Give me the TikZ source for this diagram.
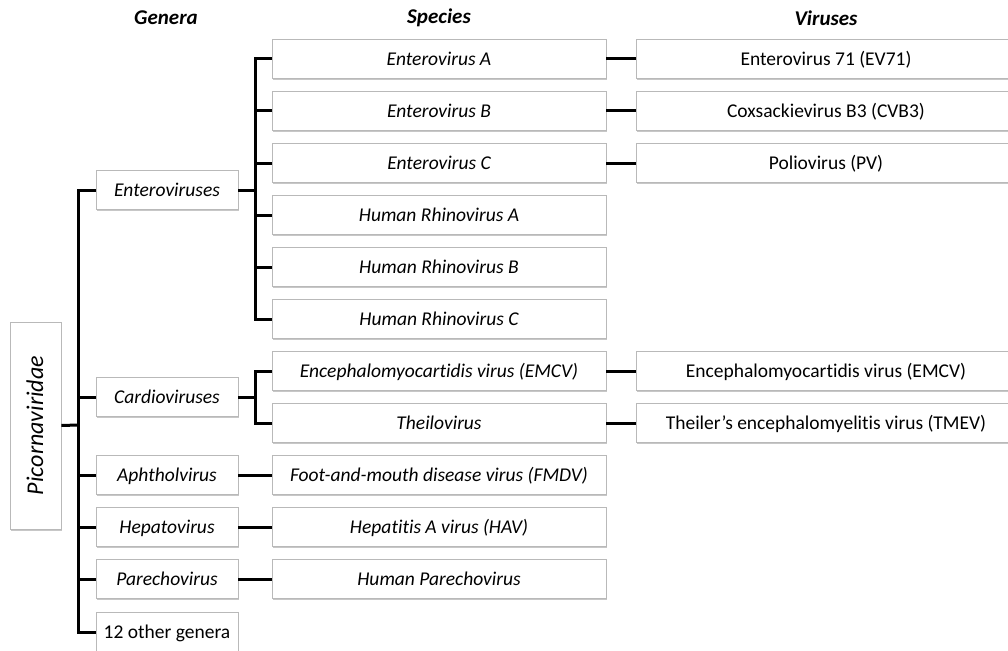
\documentclass[tikz,border=0pt]{standalone}
\usepackage{fontspec}
\setmainfont{Carlito}[Ligatures=NoCommon]
\usetikzlibrary{shadows}

\tikzset{
	box/.style={draw=gray!55, fill=white, line width=0.6pt, inner sep=0pt,
		minimum height=39pt, text height=12.3pt, text depth=0pt,
		font=\fontsize{19.5}{22}\selectfont,
		drop shadow={shadow xshift=1.2pt, shadow yshift=-1.5pt, fill=black, opacity=0.22}},
	genus/.style={box, minimum width=142pt, font=\fontsize{19.5}{22}\selectfont\itshape},
	species/.style={box, minimum width=334pt, font=\fontsize{19.5}{22}\selectfont\itshape},
	virus/.style={box, minimum width=380pt},
	head/.style={font=\fontsize{21}{24}\selectfont\bfseries\itshape},
	link/.style={line width=3pt, line join=miter},
}

\begin{document}
\begin{tikzpicture}[x=1pt, y=-1pt]
	\useasboundingbox (0,0) rectangle (1008,650);
	\clip (0,0) rectangle (1008,650);
	%Titoli
	\node [head] (hgen) at (166,18) {Genera};
	\node [head] (hspe) at (439,18) {Species};
	\node [head] (hvir) at (826,18) {Viruses};
	%Famiglia
	\node [box, rotate=90, minimum width=207pt, minimum height=51pt, text height=15.2pt,
		font=\fontsize{24}{27}\selectfont\itshape] (pic) at (35.5,425.5) {Picornaviridae};
	%Generi
	\node [genus] (ent) at (167,190) {Enteroviruses};
	\node [genus] (car) at (167,397) {Cardioviruses};
	\node [genus] (aph) at (167,475) {Aphtholvirus};
	\node [genus] (hep) at (167,527) {Hepatovirus};
	\node [genus] (par) at (167,579) {Parechovirus};
	\node [genus, font=\fontsize{19.5}{22}\selectfont] (oth) at (167,632) {12 other genera};
	%Specie
	\node [species] (enta) at (439,59) {Enterovirus A};
	\node [species] (entb) at (439,111) {Enterovirus B};
	\node [species] (entc) at (439,163) {Enterovirus C};
	\node [species] (hrva) at (439,215) {Human Rhinovirus A};
	\node [species] (hrvb) at (439,267) {Human Rhinovirus B};
	\node [species] (hrvc) at (439,319) {Human Rhinovirus C};
	\node [species] (emcs) at (439,371) {Encephalomyocartidis virus (EMCV)};
	\node [species] (thei) at (439,423) {Theilovirus};
	\node [species] (fmdv) at (439,475) {Foot-and-mouth disease virus (FMDV)};
	\node [species] (hav) at (439,527) {Hepatitis A virus (HAV)};
	\node [species] (hpev) at (439,579) {Human Parechovirus};
	%Virus
	\node [virus] (ev71) at (826,59) {Enterovirus 71 (EV71)};
	\node [virus] (cvb3) at (826,111) {Coxsackievirus B3 (CVB3)};
	\node [virus] (pv) at (826,163) {Poliovirus (PV)};
	\node [virus] (emcv) at (826,371) {Encephalomyocartidis virus (EMCV)};
	\node [virus] (tmev) at (826,423) {Theiler’s encephalomyelitis virus (TMEV)};
	%Collegamenti
	\coordinate (trunk) at (78,425);
	\coordinate (entbr) at (255,190);
	\coordinate (carbr) at (255,397);
	\draw [link] (pic.south) -- (trunk);
	\foreach \g in {ent,car,aph,hep,par,oth}
	{\draw [link] (trunk) |- (\g.west);}
	\draw [link] (ent.east) -- (entbr);
	\foreach \s in {enta,entb,entc,hrva,hrvb,hrvc}
	{\draw [link] (entbr) |- (\s.west);}
	\draw [link] (car.east) -- (carbr);
	\foreach \s in {emcs,thei}
	{\draw [link] (carbr) |- (\s.west);}
	\draw [link] (aph.east) -- (fmdv.west);
	\draw [link] (hep.east) -- (hav.west);
	\draw [link] (par.east) -- (hpev.west);
	\draw [link] (enta.east) -- (ev71.west);
	\draw [link] (entb.east) -- (cvb3.west);
	\draw [link] (entc.east) -- (pv.west);
	\draw [link] (emcs.east) -- (emcv.west);
	\draw [link] (thei.east) -- (tmev.west);
\end{tikzpicture}
\end{document}
